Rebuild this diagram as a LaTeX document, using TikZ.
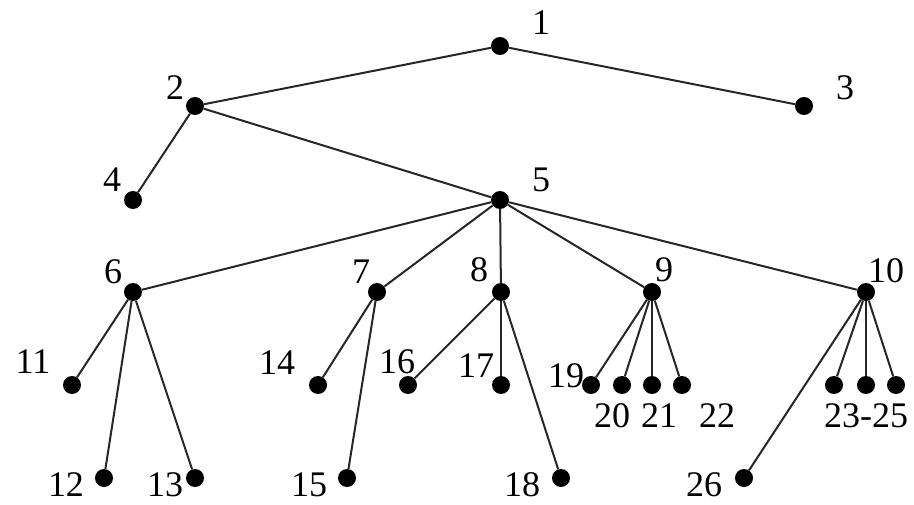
\documentclass[tikz,border=0pt]{standalone}
\usepackage{fontspec}
\setmainfont{Liberation Serif}
\usetikzlibrary{positioning}

\tikzset{
	vert/.style={circle,fill=black,inner sep=0pt,minimum size=18pt},
	num/.style={inner sep=0pt,font=\fontsize{36}{36}\selectfont},
	edge/.style={line width=2pt,black!85}
}

\begin{document}
\begin{tikzpicture}[x=1pt,y=-1pt]
	\useasboundingbox (0,0) rectangle (914,505);

	% vertices
	\node[vert] (v1) at (500,46 ) {};
	\node[vert] (v2) at (195,106) {};
	\node[vert] (v3) at (804,106) {};
	\node[vert] (v4) at (133,200) {};
	\node[vert] (v5) at (500,200) {};
	\node[vert] (v6) at (133,292) {};
	\node[vert] (v7) at (377,292) {};
	\node[vert] (v8) at (501,292) {};
	\node[vert] (v9) at (652,292) {};
	\node[vert] (v10) at (866,292) {};
	\node[vert] (v11) at (72 ,385) {};
	\node[vert] (v12) at (104,478) {};
	\node[vert] (v13) at (195,478) {};
	\node[vert] (v14) at (318,385) {};
	\node[vert] (v15) at (347,478) {};
	\node[vert] (v16) at (408,385) {};
	\node[vert] (v17) at (501,385) {};
	\node[vert] (v18) at (561,478) {};
	\node[vert] (v19) at (591,385) {};
	\node[vert] (v20) at (622,385) {};
	\node[vert] (v21) at (652,385) {};
	\node[vert] (v22) at (682,385) {};
	\node[vert] (v23) at (834,385) {};
	\node[vert] (v24) at (866,385) {};
	\node[vert] (v25) at (896,385) {};
	\node[vert] (v26) at (744,478) {};

	% edges
	\draw[edge] (v1) -- (v2);
	\draw[edge] (v1) -- (v3);
	\draw[edge] (v2) -- (v4);
	\draw[edge] (v2) -- (v5);
	\foreach \c in {6,7,8,9,10} \draw[edge] (v5) -- (v\c);
	\foreach \c in {11,12,13} \draw[edge] (v6) -- (v\c);
	\foreach \c in {14,15} \draw[edge] (v7) -- (v\c);
	\foreach \c in {16,17,18} \draw[edge] (v8) -- (v\c);
	\foreach \c in {19,20,21,22} \draw[edge] (v9) -- (v\c);
	\foreach \c in {23,24,25,26} \draw[edge] (v10) -- (v\c);

	% labels
	\node[num] (l1) at (541,23 ) {1};
	\node[num] (l2) at (175,88 ) {2};
	\node[num] (l3) at (845,88 ) {3};
	\node[num] (l4) at (112,180) {4};
	\node[num] (l5) at (541,180) {5};
	\node[num] (l6) at (113,272) {6};
	\node[num] (l7) at (361,272) {7};
	\node[num] (l8) at (479,270) {8};
	\node[num] (l9) at (664,270) {9};
	\node[num] (l10) at (886,271) {10};
	\node[num] (l11) at (33 ,362) {11};
	\node[num] (l12) at (66 ,485) {12};
	\node[num] (l13) at (165,485) {13};
	\node[num] (l14) at (277,363) {14};
	\node[num] (l15) at (309,485) {15};
	\node[num] (l16) at (397,362) {16};
	\node[num] (l17) at (476,366) {17};
	\node[num] (l18) at (522,485) {18};
	\node[num] (l19) at (566,376) {19};
	\node[num] (l20) at (612,416) {20};
	\node[num] (l21) at (659,416) {21};
	\node[num] (l22) at (717,416) {22};
	\node[num,anchor=west] (l23) at (824,416) {23-25};
	\node[num] (l26) at (704,485) {26};
\end{tikzpicture}
\end{document}
